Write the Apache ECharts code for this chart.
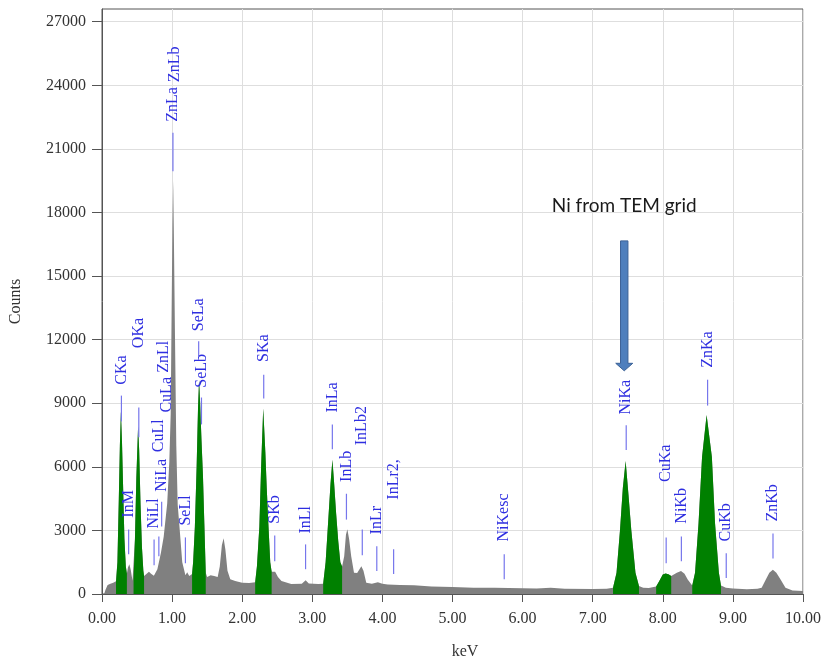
<!DOCTYPE html>
<html>
<head>
<meta charset="utf-8">
<title>EDS spectrum</title>
<script src="https://cdn.jsdelivr.net/npm/echarts@6/dist/echarts.min.js"></script>
<style>
  html, body { margin: 0; padding: 0; background: #ffffff; }
  #chart { width: 824px; height: 665px; }
</style>
</head>
<body>
<div id="chart"></div>
<script>
// Spectrum channels: energy (keV) and counts
const energy = [
  0.00, 0.03, 0.05, 0.08, 0.12, 0.16, 0.20, 0.22, 0.24, 0.255, 0.27, 0.285, 0.30, 0.32, 0.34, 0.355,
  0.37, 0.39, 0.41, 0.435, 0.45, 0.47, 0.49, 0.515, 0.53, 0.55, 0.57, 0.59, 0.60,
  0.625, 0.67, 0.70, 0.74, 0.79, 0.84, 0.88, 0.93, 0.96, 0.98, 0.995, 1.005, 1.015, 1.025, 1.04, 1.06,
  1.08, 1.10, 1.145, 1.19, 1.215, 1.245, 1.285, 1.30, 1.325, 1.35, 1.37, 1.385, 1.40, 1.42, 1.44, 1.46, 1.48,
  1.50, 1.55, 1.60, 1.65, 1.68, 1.71, 1.735, 1.76, 1.79, 1.83, 1.90, 2.00, 2.10,
  2.185, 2.21, 2.245, 2.27, 2.30, 2.33, 2.35, 2.375, 2.40, 2.42,
  2.47, 2.51, 2.56, 2.70, 2.85, 2.905, 2.95, 3.085,
  3.155, 3.19, 3.225, 3.26, 3.287, 3.31, 3.34, 3.37, 3.40, 3.425,
  3.455, 3.48, 3.50, 3.525, 3.555, 3.595, 3.64, 3.70, 3.73, 3.77, 3.85, 3.935, 4.00, 4.075,
  4.25, 4.45, 4.70, 5.00, 5.30, 5.60, 6.00, 6.20, 6.40, 6.60, 7.00, 7.20,
  7.29, 7.34, 7.39, 7.43, 7.47, 7.51, 7.55, 7.61, 7.66,
  7.72, 7.80, 7.905, 7.95, 8.00, 8.04, 8.08, 8.12,
  8.14, 8.20, 8.26, 8.31, 8.355, 8.42, 8.46, 8.51, 8.56, 8.625, 8.70, 8.745, 8.80, 8.83,
  8.90, 9.00, 9.20, 9.35, 9.41, 9.47, 9.52, 9.57, 9.62, 9.68, 9.75, 9.85, 10.00
];
const counts = [
  0, 0, 200, 420, 480, 530, 600, 1500, 4500, 7000, 8600, 7200, 5200, 2600, 1300, 950,
  1250, 1400, 1150, 620, 700, 2600, 5500, 7900, 6800, 4200, 2200, 1100, 850,
  760, 1050, 950, 860, 1170, 1930, 2700, 4270, 6200, 8500, 14000, 17400, 19500, 17000, 12500, 7000,
  4200, 3400, 1500, 880, 1030, 850, 940, 1500, 3180, 6000, 8800, 10100, 9000, 7200, 5600, 3300, 1000,
  800, 880, 850, 800, 1300, 2300, 2630, 2100, 1100, 700, 610, 530, 520,
  550, 1300, 3180, 6000, 8750, 6700, 5000, 3180, 1500, 1050,
  1050, 800, 610, 470, 480, 650, 500, 470,
  480, 1500, 3340, 5200, 6330, 5300, 3800, 2500, 1500, 1300,
  1780, 2800, 3060, 2600, 1780, 1000, 990, 1310, 1100, 530, 480, 560, 480, 450,
  420, 410, 350, 330, 300, 290, 270, 260, 300, 250, 240, 250,
  300, 1000, 3030, 5000, 6270, 4700, 3030, 1000, 380,
  300, 280, 350, 610, 920, 970, 930, 850,
  840, 1000, 1080, 950, 690, 400, 1000, 3340, 6460, 8450, 6460, 3340, 1000, 400,
  300, 260, 230, 250, 300, 690, 1000, 1150, 1000, 690, 300, 170, 140
];

// Energy windows of the fitted peaks (shown in green)
const peakWindows = [
  [0.20, 0.355], [0.45, 0.60], [1.285, 1.48], [2.185, 2.42],
  [3.155, 3.425], [7.29, 7.66], [7.905, 8.12], [8.42, 8.83]
];

// X-ray line identifications
const lineNames = ['CKa', 'OKa', 'InM', 'NiLl', 'CuLl', 'NiLa', 'ZnLl', 'CuLa', 'ZnLa', 'ZnLb',
  'SeLl', 'SeLa', 'SeLb', 'SKa', 'SKb', 'InLl', 'InLa', 'InLb', 'InLb2', 'InLr', 'InLr2,',
  'NiKesc', 'NiKa', 'CuKa', 'NiKb', 'ZnKa', 'CuKb', 'ZnKb'];
const lineEnergy = [0.277, 0.525, 0.38, 0.743, 0.811, 0.851, 0.884, 0.930, 1.012, 1.034,
  1.19, 1.379, 1.419, 2.307, 2.464, 2.904, 3.286, 3.487, 3.713, 3.920, 4.160,
  5.738, 7.478, 8.048, 8.265, 8.639, 8.905, 9.572];
const markTop = [9360, 8800, 3040, 2570, 2710, 4350, null, null, 21760, null,
  2670, 11930, 9270, 10340, 2760, 2340, 8000, 4730, 3040, 2250, 2110,
  1870, 7960, 2670, 2710, 10110, 1920, 2850];
const markBottom = [8140, 7400, 1870, 1360, 1780, 3180, null, null, 19940, null,
  1450, 11230, 8000, 9220, 1540, 1170, 6830, 3510, 1830, 1080, 940,
  700, 6790, 1450, 1540, 8890, 750, 1680];
const labelBase = [9875, 11600, 3600, 3090, 6690, 4820, 10440, 8560, 22280, 24150,
  3230, 12400, 9730, 10950, 3320, 2850, 8560, 5290, 7020, 2810, 4450,
  2480, 8470, 5290, 3320, 10670, 2480, 3420];

// Annotation arrow for the grid peak
const noteText = 'Ni from TEM grid';
const noteEnergy = 7.45;
const noteTextCounts = 18300;
const arrowTopCounts = 16660;
const arrowTipCounts = 10530;

// Count axis tick values
const countTicks = [0, 3000, 6000, 9000, 12000, 15000, 18000, 21000, 24000, 27000];

const spectrum = energy.map((e, i) => [e, counts[i]]);
const peakData = [];
peakWindows.forEach(([a, b]) => {
  energy.forEach((e, i) => {
    if (e >= a - 1e-9 && e <= b + 1e-9) peakData.push([e, counts[i]]);
  });
  peakData.push(null);
});
const markData = lineNames.map((n, i) => [lineEnergy[i], labelBase[i]]);

const serif = '"Liberation Serif", "Times New Roman", serif';

const chart = echarts.init(document.getElementById('chart'), null, { renderer: 'canvas' });
chart.setOption({
  animation: false,
  backgroundColor: '#ffffff',
  grid: {
    left: 99, right: 20, top: 9, bottom: 67,
    show: true, borderColor: '#555555', borderWidth: 1, backgroundColor: 'transparent'
  },
  xAxis: {
    type: 'value', min: 0, max: 10, interval: 1,
    name: 'keV', nameLocation: 'middle', nameGap: 50,
    nameTextStyle: { fontFamily: serif, fontSize: 16, color: '#333333', padding: [0, 0, 0, 25] },
    axisLine: { show: true, lineStyle: { color: '#555555' } },
    axisTick: { show: true, length: 8, lineStyle: { color: '#555555' } },
    axisLabel: { fontFamily: serif, fontSize: 16, color: '#333333', margin: 17,
      formatter: v => v.toFixed(2) },
    splitLine: { show: true, lineStyle: { color: '#dedede', width: 1 } }
  },
  yAxis: {
    type: 'value', min: 0, max: 27600, interval: 3000,
    name: 'Counts', nameLocation: 'middle', nameGap: 78,
    nameTextStyle: { fontFamily: serif, fontSize: 16, color: '#333333' },
    axisLine: { show: true, lineStyle: { color: '#555555' } },
    axisTick: { show: true, length: 10, customValues: countTicks, lineStyle: { color: '#555555' } },
    axisLabel: { fontFamily: serif, fontSize: 16, color: '#333333', margin: 16,
      customValues: countTicks, formatter: v => String(v) },
    splitLine: { show: true, lineStyle: { color: '#dedede', width: 1 } }
  },
  series: [
    {
      name: 'spectrum', type: 'line', data: spectrum, symbol: 'none',
      lineStyle: { width: 0, color: '#808080' },
      areaStyle: { color: '#808080', opacity: 1 },
      z: 2, silent: true
    },
    {
      name: 'peaks', type: 'line', data: peakData, symbol: 'none', connectNulls: false,
      lineStyle: { width: 0, color: '#008000' },
      areaStyle: { color: '#008000', opacity: 1 },
      z: 3, silent: true
    },
    {
      name: 'lines', type: 'custom', data: markData, z: 5, silent: true,
      encode: { x: 0, y: 1 },
      renderItem: function (params, api) {
        const i = params.dataIndex;
        const e = lineEnergy[i];
        const children = [];
        if (markTop[i] != null) {
          const p1 = api.coord([e, markTop[i]]);
          const p2 = api.coord([e, markBottom[i]]);
          children.push({
            type: 'line',
            shape: { x1: p1[0], y1: p1[1], x2: p2[0], y2: p2[1] },
            style: { stroke: '#7676ec', lineWidth: 1.2 }
          });
        }
        const pl = api.coord([e, labelBase[i]]);
        children.push({
          type: 'text', x: pl[0], y: pl[1], rotation: Math.PI / 2,
          style: { text: lineNames[i], fill: '#2e2ee0', font: '16px ' + serif,
            align: 'left', verticalAlign: 'middle' }
        });
        return { type: 'group', children: children };
      }
    },
    {
      name: 'note', type: 'custom', data: [[noteEnergy, noteTextCounts]], z: 6, silent: true,
      encode: { x: 0, y: 1 },
      renderItem: function (params, api) {
        const t = api.coord([noteEnergy, noteTextCounts]);
        const top = api.coord([noteEnergy, arrowTopCounts]);
        const tip = api.coord([noteEnergy, arrowTipCounts]);
        const cx = top[0];
        const sw = 3.7, hw = 8.5, hl = 7.5;
        const pts = [
          [cx - sw, top[1]], [cx + sw, top[1]], [cx + sw, tip[1] - hl],
          [cx + hw, tip[1] - hl], [cx, tip[1]], [cx - hw, tip[1] - hl], [cx - sw, tip[1] - hl]
        ];
        return {
          type: 'group',
          children: [
            { type: 'polygon', shape: { points: pts },
              style: { fill: '#4f7fbd', stroke: '#3b6196', lineWidth: 1 } },
            { type: 'text', x: t[0], y: t[1],
              style: { text: noteText, fill: '#1a1a1a', font: '19px Lato, "Open Sans", sans-serif',
                align: 'center', verticalAlign: 'middle' } }
          ]
        };
      }
    }
  ]
});
</script>
</body>
</html>
